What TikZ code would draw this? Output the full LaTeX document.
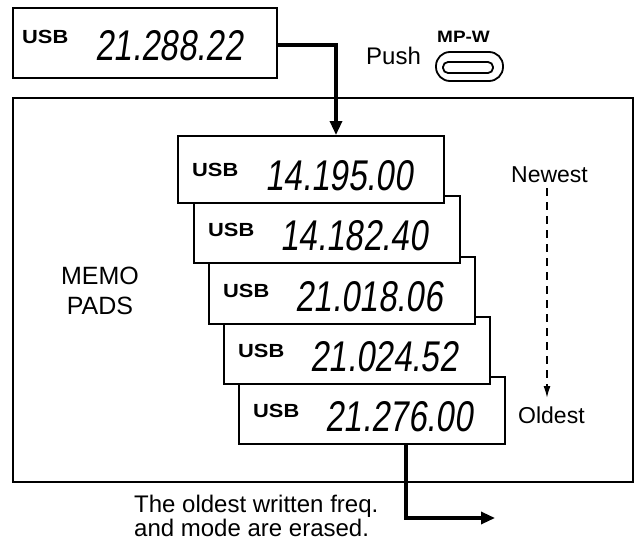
\documentclass[tikz,border=0pt]{standalone}
\usepackage{fontspec}
\setmainfont{Liberation Sans}
\newfontfamily\numfont[FakeStretch=0.77,FakeSlant=0.14]{Liberation Sans}
\newfontfamily\wideb[FakeStretch=1.15]{Liberation Sans}
\usetikzlibrary{arrows.meta,calc}
\begin{document}
\begin{tikzpicture}[x=1pt,y=-1pt,
  boxline/.style={draw=black,line width=1.8pt},
  padbox/.style={boxline,fill=white,minimum width=266pt,minimum height=67pt,anchor=north west,inner sep=0pt},
  usbtxt/.style={anchor=base west,inner sep=0pt,font=\wideb\bfseries\fontsize{19}{19}\selectfont},
  numtxt/.style={anchor=base west,inner sep=0pt,font=\numfont\fontsize{43}{43}\selectfont},
  lbl/.style={anchor=base west,inner sep=0pt,font=\fontsize{23}{23}\selectfont},
  flow/.style={line width=3.2pt,-{Triangle[length=14pt,width=12pt]}}]
\useasboundingbox (0,0) rectangle (642,543);
\fill[white] (0,0) rectangle (642,543);
% memo pads frame
\node[boxline,anchor=north west,minimum width=620pt,minimum height=384pt,inner sep=0pt] (frame) at (12,97) {};
% current display
\node[padbox,minimum width=264pt,minimum height=70pt] (top) at (12,7) {};
\node[usbtxt] (tu) at ($(top.north west)+(10,37)$) {USB};
\node[numtxt] (tn) at ($(top.north west)+(83,53)$) {21.288.22};
% push button
\node[lbl,font=\fontsize{24}{24}\selectfont] (push) at (366,65) {Push};
\node[anchor=base west,inner sep=0pt,font=\wideb\bfseries\fontsize{16.5}{16.5}\selectfont] (mpw) at (437,43) {MP-W};
\node[boxline,rounded corners=14pt,minimum width=67pt,minimum height=29pt,inner sep=0pt] (btn) at (469.5,66.5) {};
\node[boxline,rounded corners=5pt,minimum width=50pt,minimum height=11pt,inner sep=0pt] (btnin) at (468,67.5) {};
% memo pads, oldest at back
\node[padbox] (p5) at (238,376) {};
\node[usbtxt] (u5) at ($(p5.north west)+(15,41)$) {USB};
\node[numtxt] (n5) at ($(p5.north west)+(87,55)$) {21.276.00};
\node[padbox] (p4) at (223,316) {};
\node[usbtxt] (u4) at ($(p4.north west)+(15,41)$) {USB};
\node[numtxt] (n4) at ($(p4.north west)+(87,55)$) {21.024.52};
\node[padbox] (p3) at (208,256) {};
\node[usbtxt] (u3) at ($(p3.north west)+(15,41)$) {USB};
\node[numtxt] (n3) at ($(p3.north west)+(87,55)$) {21.018.06};
\node[padbox] (p2) at (193,195) {};
\node[usbtxt] (u2) at ($(p2.north west)+(15,41)$) {USB};
\node[numtxt] (n2) at ($(p2.north west)+(87,55)$) {14.182.40};
\node[padbox] (p1) at (177,135) {};
\node[usbtxt] (u1) at ($(p1.north west)+(15,41)$) {USB};
\node[numtxt] (n1) at ($(p1.north west)+(88,55)$) {14.195.00};
% labels
\node[inner sep=0pt,align=center,font=\fontsize{25}{30}\selectfont] (memo) at (100,291) {MEMO\\PADS};
\node[lbl] (newest) at (511,182) {Newest};
\node[lbl] (oldest) at (518,423) {Oldest};
\node[lbl,align=left,anchor=north west,font=\fontsize{24}{24}\selectfont] (note) at (134,495) {The oldest written freq.\\and mode are erased.};
% connectors
\coordinate (c1) at (336,45);
\draw[flow] ($(top.north east)+(0,38)$) -- (c1) -- (c1 |- p1.north);
\coordinate (d1) at (547,188);
\coordinate (d2) at (547,398);
\draw[line width=1.6pt,dash pattern=on 8pt off 6pt,-{Latex[length=12pt,width=7pt]}] (d1) -- (d2);
\coordinate (e1) at (406,518);
\coordinate (e2) at (495,518);
\draw[flow] (e1 |- p5.south) -- (e1) -- (e2);
\end{tikzpicture}
\end{document}
